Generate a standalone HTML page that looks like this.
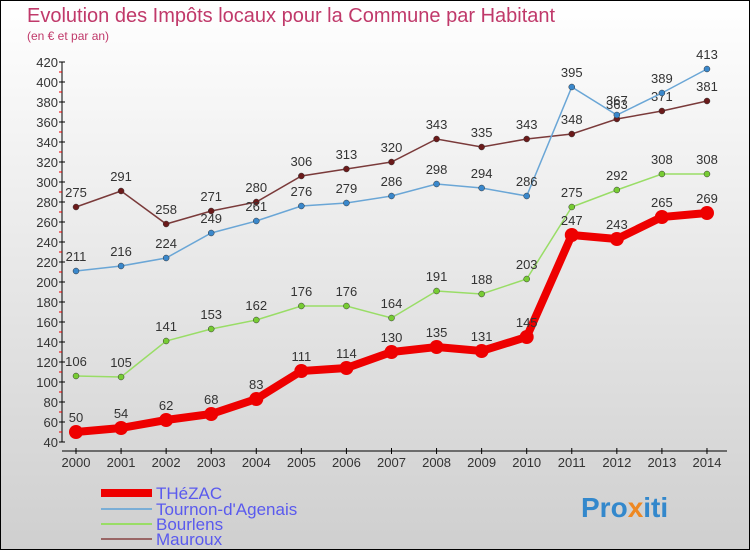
<!DOCTYPE html>
<html><head><meta charset="utf-8"><style>
body{margin:0}
#c{position:relative;width:748px;height:548px;border:1px solid #000;background:linear-gradient(#ffffff,#cfcfcf);font-family:"Liberation Sans",sans-serif;overflow:hidden}
</style></head><body>
<div id="c">
<svg id="s" width="748" height="548" style="position:absolute;left:0;top:0">
<text x="26" y="21" font-size="20" fill="#c0396a">Evolution des Impôts locaux pour la Commune par Habitant</text>
<text x="26" y="39" font-size="12" fill="#c0396a">(en € et par an)</text>
<g id="axes"></g><g id="series"></g>
<g>
<line x1="100" y1="492" x2="151" y2="492" stroke="#ee0000" stroke-width="8"/>
<text x="155" y="498" font-size="17" fill="#5a5aee">THéZAC</text>
<line x1="100" y1="508" x2="151" y2="508" stroke="#7aaed6" stroke-width="2"/>
<text x="155" y="514" font-size="17" fill="#5a5aee">Tournon-d'Agenais</text>
<line x1="100" y1="523" x2="151" y2="523" stroke="#99dd66" stroke-width="2"/>
<text x="155" y="529" font-size="17" fill="#5a5aee">Bourlens</text>
<line x1="100" y1="538" x2="151" y2="538" stroke="#996666" stroke-width="2"/>
<text x="155" y="544" font-size="17" fill="#5a5aee">Mauroux</text>
</g>
<text x="580" y="516" font-size="28" font-weight="bold" fill="#3388cc">Pro<tspan fill="#ee8822">x</tspan>iti</text>
</svg></div>
<script>
const years=[2000,2001,2002,2003,2004,2005,2006,2007,2008,2009,2010,2011,2012,2013,2014];
const yTicks=[40,60,80,100,120,140,160,180,200,220,240,260,280,300,320,340,360,380,400,420];
const thezac=[50,54,62,68,83,111,114,130,135,131,145,247,243,265,269];
const tournon=[211,216,224,249,261,276,279,286,298,294,286,395,367,389,413];
const bourlens=[106,105,141,153,162,176,176,164,191,188,203,275,292,308,308];
const mauroux=[275,291,258,271,280,306,313,320,343,335,343,348,363,371,381];
const NS="http://www.w3.org/2000/svg";
const X=i=>75+i*45.07;
const Y=v=>441-(v-40)*380/380;
function mk(p,t,a){const e=document.createElementNS(NS,t);for(const k in a)e.setAttribute(k,a[k]);p.appendChild(e);return e;}
const ax=document.getElementById('axes');
let yl=mk(ax,'line',{x1:61,y1:Y(420),x2:61,y2:Y(40),stroke:'#000'});


yTicks.forEach(v=>{
 mk(ax,'line',{x1:58,y1:Y(v),x2:64,y2:Y(v),stroke:'#000'});
 if(v<420)mk(ax,'line',{x1:58,y1:Y(v+10),x2:61,y2:Y(v+10),stroke:'#e00'});
 const t=mk(ax,'text',{x:57,y:Y(v)+5,'font-size':13,'text-anchor':'end',fill:'#333'});t.textContent=v;
 
 
});
let xl=mk(ax,'line',{x1:61,y1:450,x2:726,y2:450,stroke:'#000'});


years.forEach((y,i)=>{
 mk(ax,'line',{x1:X(i),y1:447,x2:X(i),y2:453,stroke:'#000'});
 const t=mk(ax,'text',{x:X(i),y:466,'font-size':13,'text-anchor':'middle',fill:'#333'});t.textContent=y;
 
 
});
const sg=document.getElementById('series');
function series(d,name,line,pt,w,r){
 const g=mk(sg,'g',{});
 
 
 mk(g,'polyline',{points:d.map((v,i)=>X(i)+','+Y(v)).join(' '),fill:'none',stroke:line,'stroke-width':w});
 d.forEach((v,i)=>{
  const c=mk(g,'circle',{cx:X(i),cy:Y(v),r:r,fill:pt,stroke:'#333','stroke-width':r>4?0:0.5});
  
  
  const t=mk(g,'text',{x:X(i),y:Y(v)-10,'font-size':13,'text-anchor':'middle',fill:'#333'});t.textContent=v;
  
  
 });
}
series(mauroux,'series-mauroux','#7a3a3a','#6b1a1a',1.5,3);
series(tournon,'series-tournon','#6aa6d6','#3a88cc',1.5,3);
series(bourlens,'series-bourlens','#99dd66','#77cc33',1.5,3);
series(thezac,'series-thezac','#ee0000','#ee0000',8,7);
</script>
</body></html>
